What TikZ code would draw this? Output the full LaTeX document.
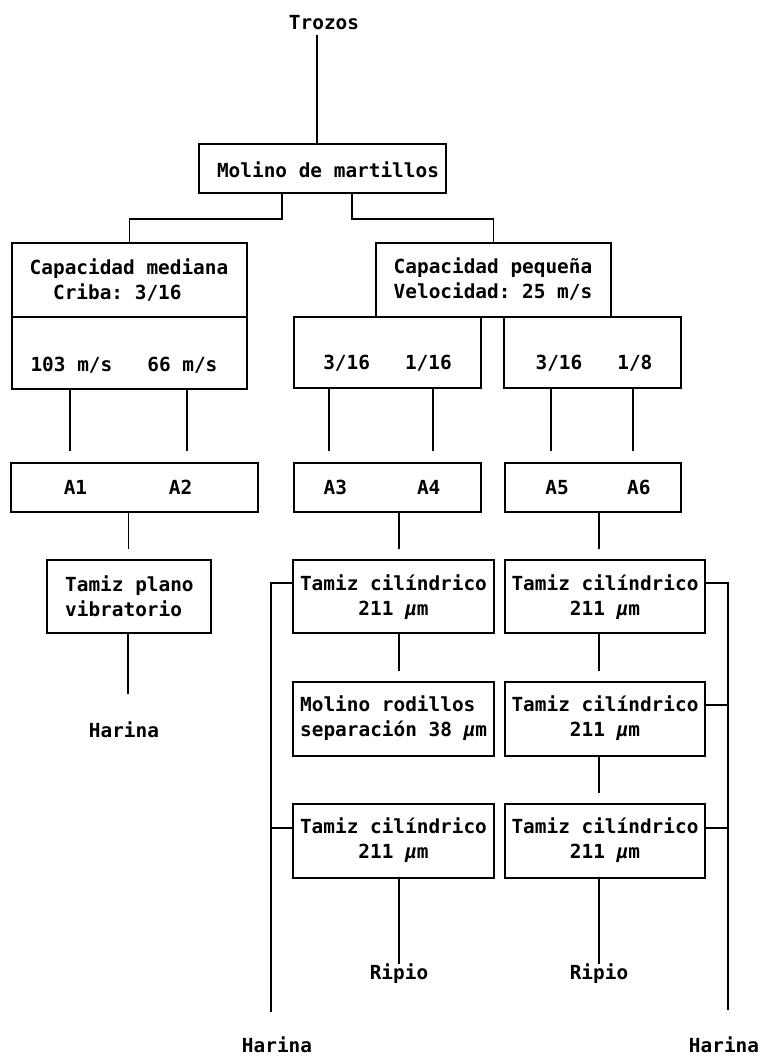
\documentclass[tikz,border=0pt]{standalone}
\usepackage{fontspec}
\setmonofont{DejaVu Sans Mono}
\begin{document}
\begin{tikzpicture}[x=1pt,y=-1pt,
  box/.style={draw, line width=2.2pt, inner sep=0pt, anchor=center},
  txt/.style={font=\ttfamily\bfseries\fontsize{19.4}{25}\selectfont, inner sep=0pt, align=center},
  con/.style={line width=1.4pt},
  bus/.style={line width=2pt}]
\useasboundingbox (0,0) rectangle (761,1057);

% top
\node[txt] (trozos) at (324,23) {Trozos};
\node[box, minimum width=247pt, minimum height=49pt] (molino) at (322.5,168.5) {};
\node[txt] (molinot) at (328,170) {Molino de martillos};

% capacidad mediana
\node[box, minimum width=235pt, minimum height=74pt] (capm) at (129.5,280) {};
\node[txt, align=left] (capmt) at (129,280) {Capacidad mediana\\\phantom{Ca}Criba: 3/16};
\node[box, minimum width=235pt, minimum height=72pt] (vel1) at (129.5,353) {};
\node[txt] (vel1t) at (124,365) {103 m/s\phantom{000}66 m/s};

% capacidad pequena
\node[box, minimum width=235pt, minimum height=74pt] (capp) at (493.5,280) {};
\node[txt] (cappt) at (493,279) {Capacidad pequeña\\Velocidad: 25 m/s};
\node[box, minimum width=187pt, minimum height=71pt] (sz1) at (387.5,352.5) {};
\node[txt] (sz1t) at (387.5,363) {3/16\phantom{000}1/16};
\node[box, minimum width=177pt, minimum height=71pt] (sz2) at (592.5,352.5) {};
\node[txt] (sz2t) at (594,363) {3/16\phantom{000}1/8};

% A boxes
\node[box, minimum width=247pt, minimum height=49pt] (a12) at (134.5,487.5) {};
\node[txt] (a12t) at (128,487) {A1\phantom{0000000}A2};
\node[box, minimum width=187pt, minimum height=49pt] (a34) at (387.5,487.5) {};
\node[txt] (a34t) at (382,487) {A3\phantom{000000}A4};
\node[box, minimum width=176pt, minimum height=49pt] (a56) at (593,487.5) {};
\node[txt] (a56t) at (598,487) {A5\phantom{00000}A6};

% tamiz plano
\node[box, minimum width=164pt, minimum height=73pt] (tplano) at (129,596.5) {};
\node[txt, align=left, anchor=west] (tplanot) at (65,596.5) {Tamiz plano\\vibratorio};
\node[txt] (harina1) at (124,730) {Harina};

% left column
\node[box, minimum width=201pt, minimum height=73pt] (L1) at (393.5,596.5) {};
\node[txt] (L1t) at (393.5,597) {Tamiz cilíndrico\\211 {\itshape μ}m};
\node[box, minimum width=201pt, minimum height=74pt] (L2) at (393.5,719) {};
\node[txt, align=left, anchor=west] (L2t) at (300,718) {Molino rodillos\\separación 38 {\itshape μ}m};
\node[box, minimum width=201pt, minimum height=74pt] (L3) at (393.5,841) {};
\node[txt] (L3t) at (393.5,840.5) {Tamiz cilíndrico\\211 {\itshape μ}m};
\node[txt] (ripio1) at (399,974) {Ripio};

% right column
\node[box, minimum width=200pt, minimum height=73pt] (R1) at (605,596.5) {};
\node[txt] (R1t) at (605,597) {Tamiz cilíndrico\\211 {\itshape μ}m};
\node[box, minimum width=200pt, minimum height=74pt] (R2) at (605,719) {};
\node[txt] (R2t) at (605,718) {Tamiz cilíndrico\\211 {\itshape μ}m};
\node[box, minimum width=200pt, minimum height=74pt] (R3) at (605,841) {};
\node[txt] (R3t) at (605,840.5) {Tamiz cilíndrico\\211 {\itshape μ}m};
\node[txt] (ripio2) at (599,974) {Ripio};

\node[txt] (harina2) at (277,1045) {Harina};
\node[txt] (harina3) at (724,1045) {Harina};

% connectors
\draw[con] ([xshift=-7pt,yshift=-5pt]trozos.south) -- ([xshift=-5.5pt]molino.north);
\draw[con] ([xshift=-40.5pt]molino.south) -- ++(0,25) -| (capm.north);
\draw[con] ([xshift=29.5pt]molino.south) -- ++(0,25) -| (capp.north);

\draw[con] ([xshift=-59.5pt]vel1.south) -- ++(0,61);
\draw[con] ([xshift=57.5pt]vel1.south) -- ++(0,61);
\draw[con] ([xshift=-58.5pt]sz1.south) -- ++(0,62);
\draw[con] ([xshift=45.5pt]sz1.south) -- ++(0,62);
\draw[con] ([xshift=-41.5pt]sz2.south) -- ++(0,62);
\draw[con] ([xshift=40.5pt]sz2.south) -- ++(0,62);

\draw[con] ([xshift=-6pt]a12.south) -- ++(0,36);
\draw[con] ([xshift=11.5pt]a34.south) -- ++(0,36);
\draw[con] ([xshift=6pt]a56.south) -- ++(0,36);

\draw[bus] ([xshift=-1pt]tplano.south) -- ++(0,60);

\draw[con] ([xshift=5.5pt]L1.south) -- ++(0,37);
\draw[con] ([xshift=-6pt]R1.south) -- ++(0,37);
\draw[con] ([xshift=-6pt]R2.south) -- ++(0,36);
\draw[con] ([xshift=5.5pt]L3.south) -- ++(0,85);
\draw[con] ([xshift=-6pt]R3.south) -- ++(0,85);

% bypass lines
\coordinate (bl) at (271,1012);
\draw[bus] ([yshift=13.5pt]L1.west) -| (bl);
\draw[bus] ([yshift=13pt]L3.west) -- ++(-22,0);
\coordinate (br) at (728,1010);
\draw[bus] ([yshift=13.5pt]R1.east) -| (br);
\draw[bus] ([yshift=14pt]R2.east) -- ++(23,0);
\draw[bus] ([yshift=13pt]R3.east) -- ++(23,0);
\end{tikzpicture}
\end{document}
